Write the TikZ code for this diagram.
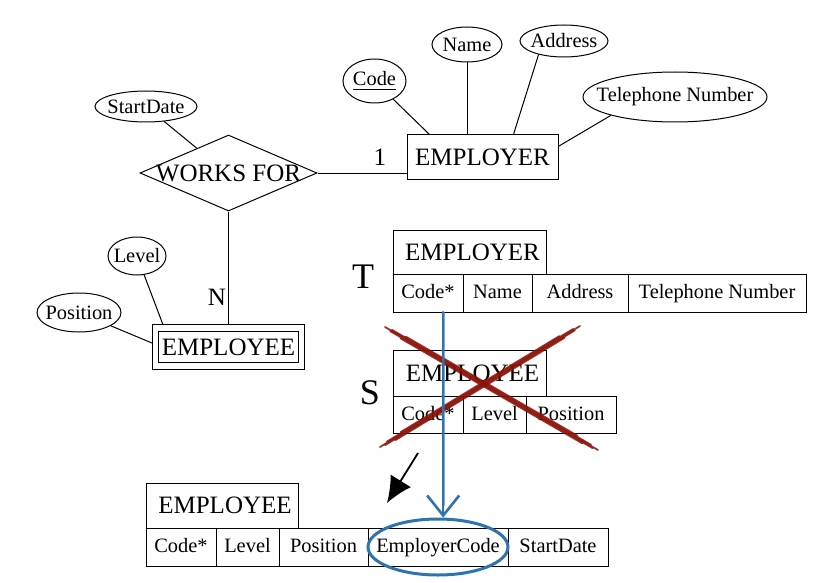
\documentclass[tikz,border=0pt]{standalone}
\usepackage{fontspec}
\setmainfont{Liberation Serif}
\usepackage{xcolor}
\usetikzlibrary{arrows.meta,positioning,shapes.geometric}

\definecolor{crossred}{RGB}{140,18,8}
\definecolor{penblue}{RGB}{45,115,175}

\begin{document}
\begin{tikzpicture}[
    x=0.5pt, y=-0.5pt,
    font=\fontsize{10.2}{12}\selectfont,
    line width=0.5pt,
    attr/.style={draw, ellipse, inner xsep=-40pt, inner ysep=-10pt},
    entity/.style={
        draw,
        inner sep=0pt,
        minimum width=75.5pt,
        minimum height=22pt,
        font=\fontsize{12.5}{15}\selectfont
    },
    weak/.style={entity, double, double distance=2.6pt, outer sep=1.8pt,
        minimum width=73pt, minimum height=19pt},
    rel/.style={draw, diamond, inner xsep=-50pt, inner ysep=-20pt,
        minimum width=88.5pt, minimum height=38pt,
        font=\fontsize{12.5}{15}\selectfont},
    hdr/.style={draw, inner sep=0pt, outer sep=0pt,
        minimum width=76.5pt, minimum height=22pt,
        font=\fontsize{12.5}{15}\selectfont},
    cell/.style={draw, inner sep=0pt, outer sep=0pt, minimum height=19pt,
        text height=1.5ex, text depth=.25ex},
    card/.style={font=\fontsize{12.5}{15}\selectfont, inner sep=1pt},
    tag/.style={font=\fontsize{18}{20}\selectfont},
    ring/.style={draw=penblue, line width=1.5pt, ellipse,
        inner xsep=-60pt, inner ysep=-20pt},
    cross/.style={crossred, line width=0.9pt, opacity=0.85, line cap=round},
    pen/.style={penblue, line width=1.3pt, line cap=round},
    hint/.style={-{Latex[length=13pt,width=12pt]}, line width=0.9pt}
]
\useasboundingbox (0,0) rectangle (819,583);

\node[attr, minimum width=31.5pt, minimum height=22pt] (code) at (374.5,81) {\underline{Code}};
\node[attr, minimum width=35pt, minimum height=17.5pt] (name) at (467,44.5) {Name};
\node[attr, minimum width=44pt, minimum height=16pt] (address) at (564,41) {Address};
\node[attr, minimum width=92pt, minimum height=25pt] (phone) at (675,97) {Telephone Number};
\node[attr, minimum width=51pt, minimum height=15.5pt] (startdate) at (146,106.5) {StartDate};
\node[attr, minimum width=29pt, minimum height=19pt] (level) at (137,256) {Level};
\node[attr, minimum width=42pt, minimum height=19.5pt] (position) at (79,312.5) {Position};

\node[entity] (employer) at (482.5,157) {EMPLOYER};
\node[rel] (worksfor) at (228.5,173) {WORKS FOR};
\node[weak] (employee) at (228.5,347) {EMPLOYEE};

\draw (code) -- (employer.157);
\draw (name) -- (name |- employer.north);
\draw (address.208) -- (employer.36);
\draw (phone.196) -- (employer.8);
\draw (startdate) -- (worksfor.142);
\draw (worksfor.east) -- node[card, pos=0.7, above=2.5pt] {1} (worksfor.east -| employer.west);
\draw (worksfor.south) -- node[card, pos=0.76, left] {N} (employee.north);
\draw (level) -- (employee.161);
\draw (position) -- (employee.177);

\node[tag] (tlabel) at (363,277) {T};
\node[hdr] (thead) at (469.5,252) {\hspace{3pt}EMPLOYER};
\node[cell, minimum width=35pt, below right=0pt and 0pt of thead.south west] (tcode) {Code*};
\node[cell, minimum width=34.5pt, right=0pt of tcode] (tname) {Name};
\node[cell, minimum width=48pt, right=0pt of tname] (taddr) {Address};
\node[cell, minimum width=89pt, right=0pt of taddr] (tphone) {Telephone Number};

\node[tag] (slabel) at (370,393) {S};
\node[hdr, minimum height=23pt] (shead) at (469.5,373) {\hspace{3pt}EMPLOYEE};
\node[cell, minimum width=35pt, minimum height=18.5pt, below right=0pt and 0pt of shead.south west] (scode) {Code*};
\node[cell, minimum width=31.5pt, minimum height=18.5pt, right=0pt of scode] (slevel) {Level};
\node[cell, minimum width=45pt, minimum height=18.5pt, right=0pt of slevel] (sposition) {Position};

\node[hdr, minimum width=76pt, minimum height=22.5pt] (rhead) at (222,505.5) {\hspace{3pt}EMPLOYEE};
\node[cell, minimum width=35pt, below right=0pt and 0pt of rhead.south west] (rcode) {Code*};
\node[cell, minimum width=31.5pt, right=0pt of rcode] (rlevel) {Level};
\node[cell, minimum width=44.5pt, right=0pt of rlevel] (rposition) {Position};
\node[cell, minimum width=70pt, right=0pt of rposition] (rfk) {EmployerCode};
\node[cell, minimum width=50pt, right=0pt of rfk] (rstart) {StartDate};

\foreach \dy/\cut in {0/0pt, 0.6/4pt, -0.6/3pt, 1.2/12pt, -1.2/9pt}{
  \draw[cross, shorten <=\cut, shorten >=\cut] ([yshift=\dy pt]385,327) -- ([yshift=\dy pt]598,450);
  \draw[cross, shorten <=\cut, shorten >=\cut] ([yshift=\dy pt]580,326) -- ([yshift=\dy pt]380,447);
}

\node[ring, minimum width=70pt, minimum height=28pt] (fkring) at (rfk) {};
\draw[pen, -{Straight Barb[length=10pt,width=16pt]}] (tcode.south -| fkring.80) -- (fkring.80);
\draw[pen, line width=0.5pt, opacity=0.6] ([xshift=0.6pt]tcode.south -| fkring.80) -- ([xshift=0.6pt,yshift=6pt]fkring.80);

\coordinate (hinttail) at (418,453);
\coordinate (hinttip) at (387,503);
\draw[hint] (hinttail) -- (hinttip);
\end{tikzpicture}
\end{document}
